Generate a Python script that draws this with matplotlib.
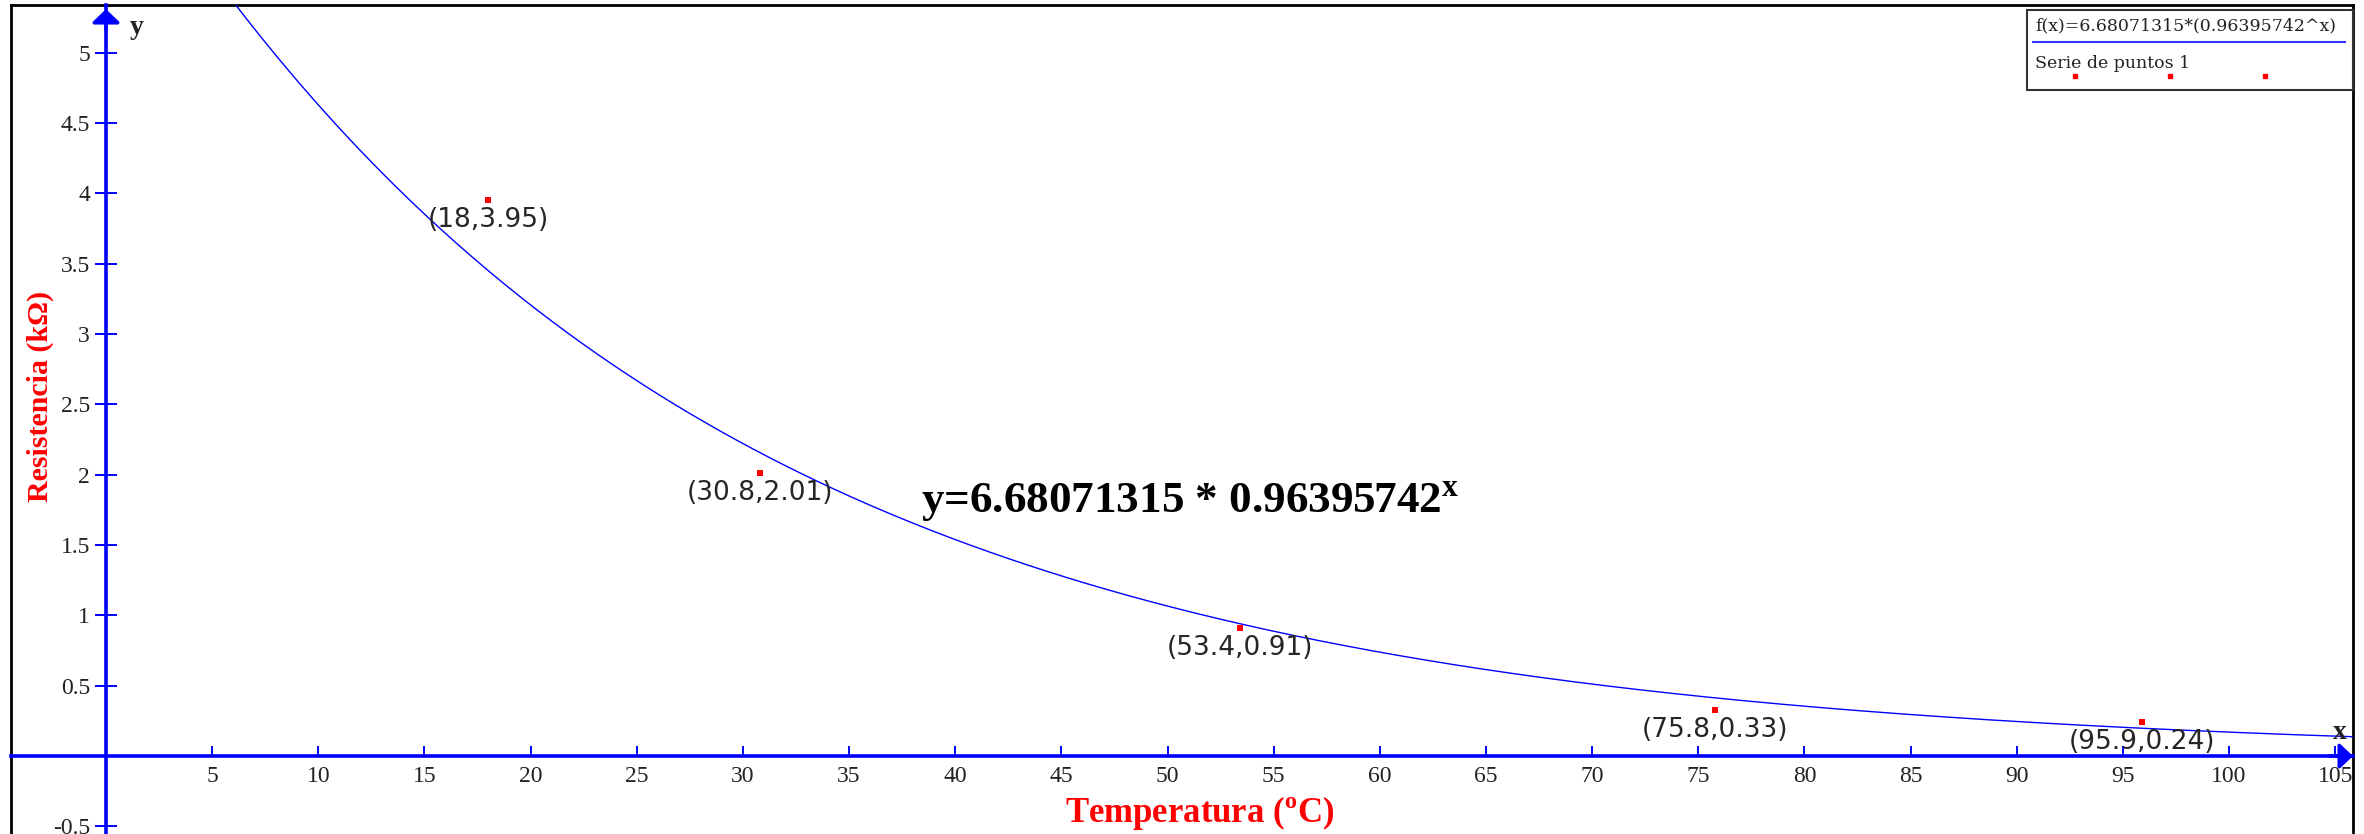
import matplotlib
matplotlib.use("Agg")
import matplotlib.pyplot as plt
from matplotlib.lines import Line2D
import numpy as np

# measured points (temperature in C, resistance in kOhm)
temps = [18, 30.8, 53.4, 75.8, 95.9]
res = [3.95, 2.01, 0.91, 0.33, 0.24]

# fitted model f(x) = a * b^x
a_fit = 6.68071315
b_fit = 0.96395742

xticks = list(range(5, 106, 5))
yticks = [-0.5, 0.5, 1, 1.5, 2, 2.5, 3, 3.5, 4, 4.5, 5]

plt.rcParams['font.family'] = ['Liberation Serif', 'DejaVu Serif']
plt.rcParams['mathtext.fontset'] = 'custom'
plt.rcParams['mathtext.rm'] = 'Liberation Serif'
plt.rcParams['mathtext.bf'] = 'Liberation Serif:bold'

W, H = 2364, 834
fig = plt.figure(figsize=(W / 100, H / 100), dpi=100)
fig.patch.set_facecolor('white')
ax = fig.add_axes([11 / W, 0, (2353 - 11) / W, 1 - 5 / H])

ax.set_xlim(-4.475, 105.84)
ax.set_ylim(-0.554, 5.338)

blue = '#0000ff'

# curve
xs = np.linspace(-4.475, 105.84, 600)
ax.plot(xs, a_fit * b_fit ** xs, color=blue, lw=1.0, zorder=3)

# points + labels
ax.scatter(temps, res, marker='s', s=14, color='red', zorder=5, linewidths=0)
for t, r in zip(temps, res):
    ax.annotate(f"({t:g},{r:g})", (t, r), xytext=(0, -14.5), textcoords='offset points',
                ha='center', va='center', fontsize=19, family='DejaVu Sans', color='#262626',
                zorder=4)

# axes through the origin
for s in ['top', 'right']:
    ax.spines[s].set_visible(False)
ax.spines['left'].set_position(('data', 0))
ax.spines['bottom'].set_position(('data', 0))
for s in ['left', 'bottom']:
    ax.spines[s].set_color(blue)
    ax.spines[s].set_linewidth(2.6)
ax.set_xticks(xticks)
ax.set_yticks(yticks)
ax.set_yticklabels([f"{v:g}" for v in yticks])
ax.tick_params(axis='x', direction='in', length=7.5, width=1.4, color=blue, pad=7,
               labelsize=17, labelcolor='#222222')
ax.tick_params(axis='y', direction='inout', length=16, width=1.4, color=blue, pad=3.5,
               labelsize=17, labelcolor='#222222')

# arrow heads
ax.annotate('', xy=(1.0, 0), xycoords=('axes fraction', 'data'),
            xytext=(0.99, 0), textcoords=('axes fraction', 'data'),
            arrowprops=dict(arrowstyle='-|>,head_length=0.4,head_width=0.38', color=blue,
                            lw=2.6, shrinkA=0, shrinkB=0, mutation_scale=20))
ax.annotate('', xy=(0, 0.995), xycoords=('data', 'axes fraction'),
            xytext=(0, 0.97), textcoords=('data', 'axes fraction'),
            arrowprops=dict(arrowstyle='-|>,head_length=0.4,head_width=0.42', color=blue,
                            lw=2.6, shrinkA=0, shrinkB=0, mutation_scale=20))

# axis letters
ax.text(1.1, 5.18, 'y', fontsize=20, fontweight='bold', color='#222222', ha='left', va='center')
ax.text(105.2, 0.17, 'x', fontsize=20, fontweight='bold', color='#222222', ha='center', va='center')

# outer frame (left, top, right)
for xy in [([0, 0], [0, 1]), ([0, 1], [1, 1]), ([1, 1], [0, 1])]:
    ax.add_line(Line2D(xy[0], xy[1], transform=ax.transAxes, color='black', lw=2,
                       clip_on=False))

# axis titles
fig.text(1200 / W, 1 - 813 / H, 'Temperatura (${}^{\\mathbf{o}}$C)', color='red',
         fontsize=25, fontweight='bold', ha='center', va='center')
fig.text(40 / W, 1 - 396 / H, 'Resistencia (k\u03a9)', color='red', fontsize=21.5,
         fontweight='bold', ha='center', va='center', rotation=90)

# equation
ax.text(38.39, 1.727, 'y=6.68071315 * 0.96395742$^{\\mathbf{x}}$', fontsize=32.5,
        fontweight='bold', color='black', ha='left', va='baseline')

# legend box drawn by hand
fig.patches.append(plt.Rectangle((2027 / W, 1 - 90 / H), (2353 - 2027) / W, 80 / H,
                                 transform=fig.transFigure, fill=False,
                                 edgecolor='#333333', lw=1.5))
fig.text(2035 / W, 1 - 30 / H, 'f(x)=6.68071315*(0.96395742^x)', fontsize=12.5,
         family='DejaVu Serif', color='#222222', ha='left', va='baseline')
fig.add_artist(Line2D([2033 / W, 2345 / W], [1 - 42 / H, 1 - 42 / H],
                      transform=fig.transFigure, color='#3333ff', lw=1.5))
fig.text(2035 / W, 1 - 68 / H, 'Serie de puntos 1', fontsize=12.5,
         family='DejaVu Serif', color='#222222', ha='left', va='baseline')
for px in [2075, 2170, 2265]:
    fig.add_artist(Line2D([px / W], [1 - 76 / H], transform=fig.transFigure,
                          marker='s', markersize=3.2, color='red', lw=0))

plt.savefig('out.png', dpi=100)
